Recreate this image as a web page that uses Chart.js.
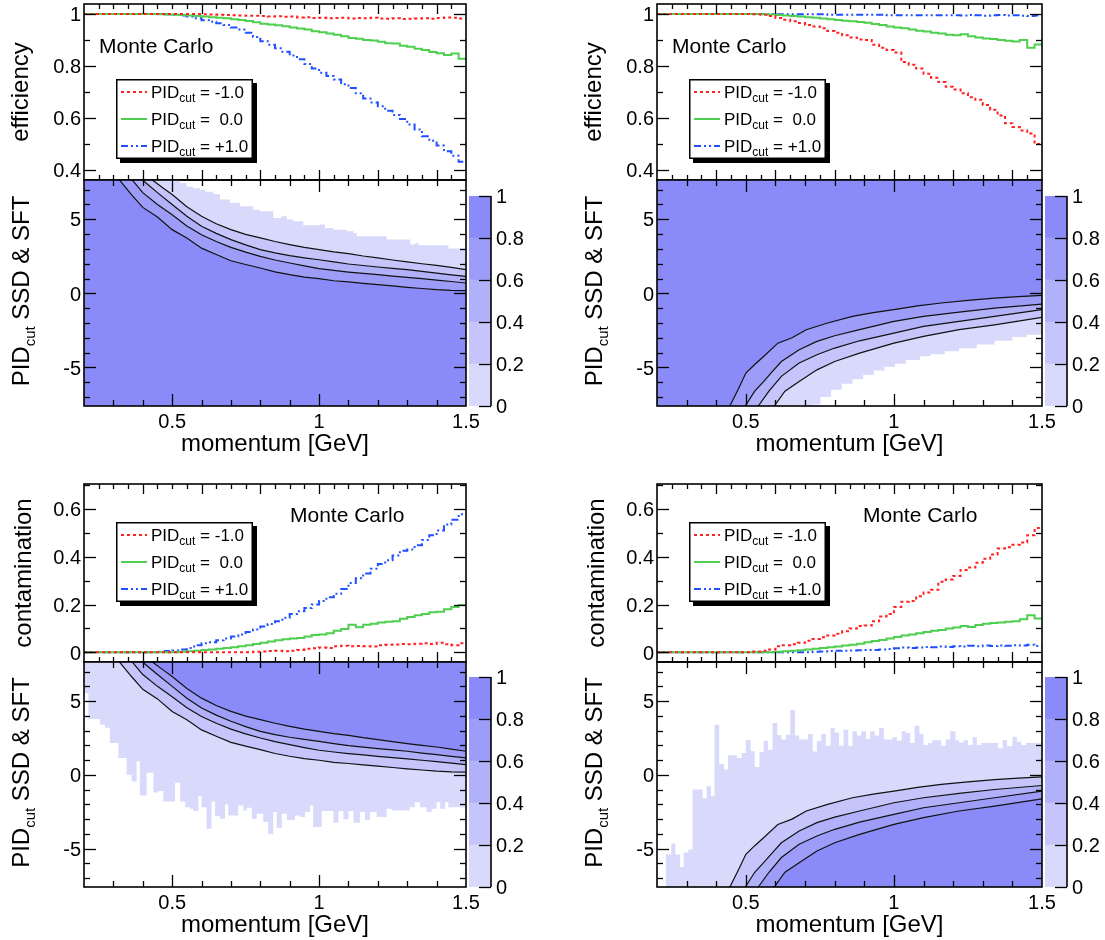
<!DOCTYPE html>
<html><head><meta charset="utf-8">
<script src="https://cdn.jsdelivr.net/npm/chart.js@4.4.1/dist/chart.umd.min.js"></script>
<style>
html,body{margin:0;padding:0;background:#fff;}
#wrap{position:relative;width:1105px;height:940px;overflow:hidden;background:#fff;}
#wrap canvas{position:absolute;left:0;top:0;}
</style></head><body><div id="wrap"></div>
<script>
// ---------------- DATA ----------------
const binEdges = [0.2,0.225,0.25,0.275,0.3,0.325,0.35,0.375,0.4,0.425,0.45,0.475,0.5,0.525,0.55,0.575,0.6,0.625,0.65,0.675,0.7,0.725,0.75,0.775,0.8,0.825,0.85,0.875,0.9,0.925,0.95,0.975,1.0,1.025,1.05,1.075,1.1,1.125,1.15,1.175,1.2,1.225,1.25,1.275,1.3,1.325,1.35,1.375,1.4,1.425,1.45,1.475];
const momentumMax = 1.5;
const legendTexts = ['= -1.0', '=  0.0', '= +1.0'];

// efficiency, top-left
const effTL_m1 = [1,1,1,1,1,1,1,1,1,1,1,1,1,1,1,1,0.999,0.998,0.997,0.996,0.995,0.994,0.993,0.993,0.992,0.99,0.991,0.989,0.99,0.987,0.988,0.985,0.986,0.984,0.985,0.986,0.983,0.985,0.984,0.986,0.983,0.982,0.984,0.981,0.982,0.983,0.984,0.982,0.985,0.987,0.986,0.983];
const effTL_0 = [1,1,1,1,1,1,1,1,1,1,0.999,0.998,0.997,0.996,0.994,0.992,0.99,0.988,0.986,0.984,0.98,0.977,0.973,0.968,0.963,0.96,0.957,0.953,0.948,0.944,0.94,0.934,0.93,0.925,0.92,0.914,0.908,0.905,0.9,0.898,0.893,0.888,0.887,0.878,0.874,0.866,0.862,0.854,0.849,0.842,0.848,0.828];
const effTL_p1 = [1,1,1,1,1,1,1,1,1,1,1,0.999,0.997,0.994,0.99,0.984,0.976,0.97,0.964,0.958,0.948,0.94,0.928,0.912,0.895,0.882,0.868,0.855,0.84,0.826,0.808,0.79,0.774,0.762,0.748,0.73,0.715,0.695,0.675,0.66,0.645,0.628,0.612,0.596,0.575,0.556,0.53,0.512,0.494,0.472,0.455,0.432];
// efficiency, top-right
const effTR_m1 = [1,1,1,1,1,1,1,1,1,1,1,1,1,0.999,0.997,0.992,0.985,0.978,0.972,0.965,0.958,0.952,0.945,0.935,0.928,0.918,0.91,0.902,0.9,0.882,0.87,0.862,0.852,0.815,0.805,0.79,0.77,0.755,0.738,0.72,0.71,0.695,0.68,0.67,0.65,0.632,0.61,0.58,0.565,0.552,0.54,0.5];
const effTR_0 = [1,1,1,1,1,1,1,1,1,1,1,1,1,1,0.999,0.998,0.996,0.994,0.992,0.99,0.988,0.986,0.983,0.98,0.977,0.974,0.972,0.969,0.966,0.962,0.958,0.952,0.948,0.945,0.94,0.936,0.933,0.928,0.925,0.92,0.918,0.922,0.914,0.91,0.906,0.904,0.9,0.897,0.894,0.9,0.87,0.883];
const effTR_p1 = [1,1,1,1,1,1,1,1,1,1,1,1,1,1,1,1,0.999,0.999,0.999,0.999,0.999,0.999,0.999,0.997,0.997,0.997,0.997,0.997,0.997,0.997,0.997,0.995,0.995,0.995,0.995,0.995,0.995,0.995,0.995,0.995,0.995,0.994,0.996,0.995,0.993,0.995,0.996,0.994,0.995,0.993,0.992,0.994];
// contamination, bottom-left
const conBL_m1 = [0,0,0,0,0,0,0,0,0,0,0,0,0,0,0,0,0,0,0,0,0,0,0,0.002,0.003,0.005,0.006,0.004,0.007,0.01,0.015,0.017,0.02,0.018,0.025,0.027,0.025,0.026,0.025,0.024,0.03,0.032,0.033,0.035,0.034,0.036,0.038,0.035,0.04,0.034,0.03,0.038];
const conBL_0 = [0,0,0,0,0,0,0,0,0,0,0,0,0,0.002,0.004,0.007,0.01,0.012,0.015,0.018,0.021,0.025,0.03,0.035,0.04,0.045,0.05,0.055,0.058,0.06,0.066,0.072,0.075,0.08,0.09,0.098,0.115,0.105,0.115,0.12,0.125,0.128,0.13,0.14,0.148,0.155,0.16,0.168,0.17,0.18,0.19,0.198];
const conBL_p1 = [0,0,0,0,0,0,0,0,0,0,0.002,0.005,0.008,0.012,0.018,0.03,0.038,0.042,0.05,0.058,0.066,0.075,0.085,0.095,0.108,0.118,0.13,0.145,0.16,0.172,0.185,0.2,0.215,0.23,0.245,0.265,0.29,0.31,0.33,0.35,0.37,0.385,0.405,0.425,0.43,0.448,0.47,0.49,0.51,0.535,0.555,0.578];
// contamination, bottom-right
const conBR_m1 = [0,0,0,0,0,0,0,0,0,0,0,0,0,0.003,0.006,0.012,0.025,0.03,0.034,0.04,0.048,0.056,0.063,0.07,0.078,0.088,0.1,0.11,0.112,0.13,0.15,0.16,0.19,0.212,0.215,0.235,0.25,0.262,0.295,0.305,0.32,0.345,0.355,0.375,0.392,0.41,0.435,0.44,0.45,0.46,0.49,0.52];
const conBR_0 = [0,0,0,0,0,0,0,0,0,0,0,0,0,0,0,0,0.002,0.004,0.006,0.009,0.012,0.015,0.018,0.021,0.024,0.028,0.032,0.036,0.042,0.047,0.052,0.058,0.064,0.07,0.075,0.08,0.085,0.09,0.093,0.1,0.104,0.11,0.106,0.114,0.12,0.123,0.125,0.128,0.13,0.138,0.155,0.142];
const conBR_p1 = [0,0,0,0,0,0,0,0,0,0,0,0,0,0,0,0,0,0,0,0,0,0.002,0.003,0.005,0.006,0.007,0.008,0.009,0.01,0.01,0.012,0.014,0.017,0.02,0.018,0.02,0.022,0.021,0.024,0.022,0.025,0.024,0.027,0.025,0.028,0.026,0.029,0.027,0.03,0.028,0.032,0.026];

// contour lines (levels 0.2/0.4/0.6/0.8) for the PID maps; first point lies outside the frame
const posC1X = [0.2,0.436,0.47,0.5,0.55,0.6,0.65,0.7,0.75,0.8,0.85,0.9,0.95,1.0,1.05,1.1,1.15,1.2,1.25,1.3,1.35,1.4,1.45,1.5];
const posC1Y = [12,7.6,7.1,6.67,5.85,5.2,4.7,4.3,3.98,3.74,3.5,3.29,3.1,2.95,2.8,2.68,2.52,2.39,2.25,2.12,2.0,1.89,1.75,1.6];
const posC2X = [0.2,0.402,0.45,0.5,0.55,0.6,0.65,0.7,0.75,0.8,0.85,0.9,0.95,1.0,1.05,1.1,1.15,1.2,1.25,1.3,1.35,1.4,1.45,1.5];
const posC2Y = [12,7.6,6.8,6.0,5.2,4.53,4.05,3.63,3.27,2.95,2.73,2.55,2.4,2.27,2.12,1.98,1.88,1.78,1.69,1.6,1.48,1.37,1.25,1.15];
const posC3X = [0.2,0.366,0.4,0.45,0.5,0.55,0.6,0.65,0.7,0.75,0.8,0.85,0.9,0.95,1.0,1.05,1.1,1.15,1.2,1.25,1.3,1.35,1.4,1.45,1.5];
const posC3Y = [12,7.6,6.8,6.0,5.3,4.55,3.96,3.5,3.1,2.78,2.5,2.25,2.05,1.85,1.67,1.55,1.44,1.35,1.26,1.17,1.08,0.99,0.9,0.8,0.7];
const posC4X = [0.2,0.3225,0.36,0.4,0.45,0.5,0.55,0.6,0.65,0.7,0.75,0.8,0.85,0.9,0.95,1.0,1.05,1.1,1.15,1.2,1.25,1.3,1.35,1.4,1.45,1.5];
const posC4Y = [12,7.6,6.7,5.8,5.15,4.3,3.74,3.05,2.62,2.2,1.95,1.71,1.45,1.26,1.1,0.99,0.85,0.77,0.68,0.59,0.5,0.41,0.33,0.25,0.2,0.18];
const negC1X = [0.2,0.446,0.476,0.5,0.53,0.56,0.608,0.656,0.704,0.776,0.86,0.93,1.0,1.08,1.16,1.25,1.34,1.42,1.5];
const negC1Y = [-12,-7.6,-6.4,-5.38,-4.8,-4.26,-3.36,-3.0,-2.45,-2.0,-1.55,-1.3,-1.1,-0.85,-0.65,-0.47,-0.32,-0.22,-0.14];
const negC2X = [0.2,0.498,0.53,0.56,0.59,0.62,0.68,0.74,0.8,0.884,1.0,1.1,1.22,1.34,1.5];
const negC2Y = [-12,-7.6,-6.6,-5.95,-5.27,-4.6,-3.8,-3.24,-2.86,-2.45,-1.89,-1.55,-1.26,-0.99,-0.72];
const negC3X = [0.2,0.542,0.578,0.62,0.68,0.74,0.8,0.884,1.0,1.1,1.22,1.34,1.5];
const negC3Y = [-12,-7.6,-6.6,-5.6,-4.7,-4.14,-3.69,-3.2,-2.68,-2.23,-1.89,-1.55,-1.1];
const negC4X = [0.2,0.596,0.632,0.68,0.74,0.8,0.884,1.0,1.1,1.22,1.34,1.5];
const negC4Y = [-12,-7.6,-6.6,-5.95,-5.16,-4.6,-4.03,-3.36,-2.9,-2.45,-2.12,-1.62];

// edge of the populated (0-0.2) region, per momentum bin (left edges)
const bndTL_x = [0.2,0.527,0.549,0.572,0.595,0.612,0.64,0.663,0.697,0.731,0.776,0.799,0.844,0.873,0.89,0.912,0.946,1.003,1.02,1.049,1.094,1.117,1.128,1.185,1.23,1.276,1.31,1.326,1.338,1.44];
const bndTL_y = [9,7.45,7.2,7.1,7.0,6.85,6.7,6.33,6.1,5.88,5.65,5.54,5.09,5.2,4.98,4.86,4.6,4.64,4.41,4.3,4.19,4.08,3.85,3.85,3.63,3.63,3.29,3.4,3.24,3.02];
const bndTR_x = [0.2,0.722,0.752,0.788,0.824,0.86,0.896,0.932,0.968,1.004,1.04,1.088,1.124,1.172,1.22,1.28,1.34,1.4,1.448];
const bndTR_y = [-9,-7.5,-7.0,-6.5,-6.1,-5.8,-5.5,-5.2,-4.95,-4.75,-4.5,-4.25,-4.1,-3.9,-3.7,-3.45,-3.2,-2.95,-2.8];
const bndBL_x = [0.2,0.215,0.226,0.254,0.271,0.288,0.317,0.345,0.362,0.379,0.39,0.413,0.436,0.453,0.47,0.498,0.51,0.527,0.544,0.561,0.572,0.589,0.6,0.617,0.634,0.646,0.663,0.68,0.691,0.725,0.742,0.754,0.771,0.788,0.81,0.827,0.844,0.856,0.873,0.89,0.918,0.935,0.952,0.969,0.98,1.009,1.049,1.066,1.083,1.1,1.117,1.139,1.156,1.173,1.196,1.23,1.247,1.309,1.326,1.343,1.366,1.383,1.4,1.412,1.429,1.44];
const bndBL_y = [5.54,3.78,3.78,3.4,3.2,2.16,1.15,0,-0.45,0.92,-1.4,0.14,-1.2,-1.1,-1.8,-1.8,-0.54,-1.8,-2.2,-2.3,-2.45,-1.44,-2.2,-3.65,-1.8,-2.8,-2.97,-2.0,-2.75,-2.07,-2.41,-2.23,-2.97,-2.64,-3.2,-4.0,-2.52,-3.6,-2.64,-3.06,-2.75,-2.86,-2.52,-2.07,-3.54,-2.45,-3.24,-2.45,-3.0,-2.45,-3.24,-2.52,-3.06,-2.52,-2.86,-2.3,-2.41,-2.2,-1.85,-2.2,-2.52,-2.3,-1.85,-2.3,-1.85,-2.2];
const bndBR_x = [0.2,0.23,0.248,0.262,0.278,0.29,0.306,0.32,0.354,0.368,0.382,0.394,0.41,0.426,0.44,0.47,0.486,0.5,0.516,0.53,0.546,0.56,0.575,0.59,0.606,0.62,0.635,0.65,0.666,0.68,0.71,0.726,0.74,0.755,0.77,0.786,0.8,0.815,0.83,0.846,0.86,0.875,0.89,0.906,0.92,0.935,0.95,0.966,0.995,1.01,1.026,1.04,1.055,1.07,1.086,1.1,1.115,1.13,1.16,1.175,1.19,1.208,1.22,1.235,1.25,1.266,1.28,1.295,1.322,1.352,1.367,1.382,1.4,1.415,1.43,1.446];
const bndBR_y = [-9,-5.4,-4.66,-5.4,-6.24,-5.27,-5.05,-1.0,-1.58,-0.77,-1.44,3.4,0.74,0.36,1.33,1.15,1.49,2.36,1.6,0.54,1.53,2.32,1.71,3.51,2.7,2.39,2.72,4.39,2.66,2.39,2.77,1.58,2.32,2.77,1.98,3.18,2.88,1.98,3.06,1.98,2.95,2.66,2.95,2.43,2.95,2.66,3.18,2.39,2.55,2.32,2.95,2.84,2.16,3.33,2.77,2.03,2.16,2.34,1.98,2.39,2.95,2.34,2.2,2.34,2.03,2.55,2.03,2.16,2.16,1.8,2.34,1.94,2.59,2.25,2.03,2.16];

// colour scale
const zLevels = [0, 0.2, 0.4, 0.6, 0.8, 1];
const zTickLabels = ['0', '0.2', '0.4', '0.6', '0.8', '1'];
// tick labels
const effTicks = [0.4, 0.6, 0.8, 1]; const effTickLabels = ['0.4', '0.6', '0.8', '1'];
const contTicks = [0, 0.2, 0.4, 0.6]; const contTickLabels = ['0', '0.2', '0.4', '0.6'];
const pidTicks = [-5, 0, 5]; const pidTickLabels = ['-5', '0', '5'];
const momTicks = [0.5, 1, 1.5]; const momTickLabels = ['0.5', '1', '1.5'];

// ---------------- STYLE / LAYOUT ----------------
const FONT = '"Liberation Sans", Arial, Helvetica, sans-serif';
const BAND = ['#d9d9fc', '#c5c5fb', '#b1b1fa', '#9d9df9', '#8a8af8'];
const SERIES_STYLE = [
  {color: '#ff2020', dash: [3, 3]},
  {color: '#4fcf4f', dash: []},
  {color: '#2050ff', dash: [7, 3, 2, 3, 2, 3]}
];
const W = 1105, H = 940;
const EFF_RANGE = [0.3615, 1.0385], CONT_RANGE = [-0.0406, 0.7047], PID_RANGE = [-7.6, 7.65];

function mkCanvas() {
  const c = document.createElement('canvas');
  c.width = W; c.height = H;
  document.getElementById('wrap').appendChild(c);
  return c;
}
function pad(L, T, R, B) { return {left: L, top: T, right: W - R, bottom: H - B}; }
function stepPoints(edges, vals, xEnd) {
  const pts = edges.map((x, i) => ({x: x, y: vals[i]}));
  pts.push({x: xEnd, y: vals[vals.length - 1]});
  return pts;
}
function range(a, b, s) { const r = []; for (let v = a; v <= b + 1e-9; v += s) r.push(Math.round(v * 1000) / 1000); return r; }

function drawRich(ctx, segs, x, y, rotate, align) {
  ctx.save();
  ctx.translate(x, y);
  if (rotate) ctx.rotate(-Math.PI / 2);
  let total = 0;
  segs.forEach(s => { ctx.font = s.size + 'px ' + FONT; s.w = ctx.measureText(s.t).width; total += s.w; });
  let cx = align === 'center' ? -total / 2 : 0;
  ctx.textAlign = 'left'; ctx.textBaseline = 'alphabetic'; ctx.fillStyle = '#000';
  segs.forEach(s => { ctx.font = s.size + 'px ' + FONT; ctx.fillText(s.t, cx, s.dy || 0); cx += s.w; });
  ctx.restore();
}

// frame + inside ticks + tick labels (ROOT style)
const rootAxes = {
  id: 'rootAxes',
  afterDraw(chart, args, o) {
    if (!o || !o.kind) return;
    const ctx = chart.ctx, a = chart.chartArea, sx = chart.scales.x, sy = chart.scales.y;
    ctx.save();
    ctx.strokeStyle = '#000';
    const L = Math.round(a.left), R = Math.round(a.right), T = Math.round(a.top), B = Math.round(a.bottom);
    const seg = (x1, y1, x2, y2) => { ctx.beginPath(); ctx.moveTo(x1, y1); ctx.lineTo(x2, y2); ctx.stroke(); };
    ctx.fillStyle = '#000';
    if (o.kind === 'cbar') {
      ctx.lineWidth = 1.6; seg(R, T, R, B);
      ctx.lineWidth = 1.3;
      (o.yTicks || []).forEach(t => { const py = Math.round(sy.getPixelForValue(t.v)) + 0.5; seg(R, py, R - t.len, py); });
      ctx.font = o.fontSize + 'px ' + FONT; ctx.textAlign = 'left'; ctx.textBaseline = 'alphabetic';
      (o.rLabels || []).forEach(l => { ctx.fillText(l.t, a.right + 5, sy.getPixelForValue(l.v) + o.fontSize * 0.36); });
      ctx.restore(); return;
    }
    ctx.lineWidth = 1.3;
    (o.xTicks || []).forEach(t => {
      const px = Math.round(sx.getPixelForValue(t.v)) + 0.5;
      if (px < L + 1 || px > R - 1) return;
      seg(px, B, px, B - t.len); seg(px, T, px, T + t.len);
    });
    (o.yTicks || []).forEach(t => {
      const py = Math.round(sy.getPixelForValue(t.v)) + 0.5;
      if (py < T + 1 || py > B - 1) return;
      seg(L, py, L + t.len, py); seg(R, py, R - t.len, py);
    });
    ctx.lineWidth = 1.6;
    ctx.strokeRect(L, T, R - L, B - T);
    ctx.font = o.fontSize + 'px ' + FONT;
    ctx.textAlign = 'right'; ctx.textBaseline = 'alphabetic';
    (o.yLabels || []).forEach(l => { ctx.fillText(l.t, a.left - 3, sy.getPixelForValue(l.v) + o.fontSize * 0.36); });
    ctx.textAlign = 'center';
    (o.xLabels || []).forEach(l => { ctx.fillText(l.t, sx.getPixelForValue(l.v), a.bottom + 22); });
    ctx.restore();
  }
};

// titles, texts and legend
const deco = {
  id: 'deco',
  afterDraw(chart, args, o) {
    if (!o || !o.items) return;
    const ctx = chart.ctx;
    o.items.forEach(it => {
      if (it.type === 'rich') { drawRich(ctx, it.segs.map(s => Object.assign({}, s)), it.x, it.y, it.rotate, it.align); return; }
      if (it.type === 'legend') {
        const x = it.x, y = it.y, w = it.w, h = it.h;
        ctx.save();
        ctx.fillStyle = '#000'; ctx.fillRect(x + 4, y + 4, w, h);
        ctx.fillStyle = '#fff'; ctx.fillRect(x, y, w, h);
        ctx.strokeStyle = '#000'; ctx.lineWidth = 1.5; ctx.strokeRect(x + 0.75, y + 0.75, w - 1.5, h - 1.5);
        chart.data.datasets.forEach((ds, i) => {
          const cy = y + h * (2 * i + 1) / 6;
          ctx.strokeStyle = ds.borderColor; ctx.lineWidth = 2; ctx.setLineDash(ds.borderDash || []);
          ctx.beginPath(); ctx.moveTo(x + 5, Math.round(cy)); ctx.lineTo(x + 31, Math.round(cy)); ctx.stroke();
          ctx.setLineDash([]);
          drawRich(ctx, [{t: 'PID', size: 17}, {t: 'cut', size: 12, dy: 4}, {t: ' ' + ds.label, size: 17}], x + 35, cy + 6, false, 'left');
        });
        ctx.restore();
      }
    });
  }
};
Chart.register(rootAxes, deco);

const panels = [
  {L: 84, R: 466, T: 4, M: 180, B: 406, cbL: 469, cbR: 491, cbT: 196, kind: 'eff',
   series: [effTL_m1, effTL_0, effTL_p1], fill: 'start',
   cont: [[posC4X, posC4Y], [posC3X, posC3Y], [posC2X, posC2Y], [posC1X, posC1Y]], bnd: [bndTL_x, bndTL_y]},
  {L: 657, R: 1042, T: 4, M: 180, B: 406, cbL: 1045, cbR: 1067, cbT: 196, kind: 'eff',
   series: [effTR_m1, effTR_0, effTR_p1], fill: 'end',
   cont: [[negC1X, negC1Y], [negC2X, negC2Y], [negC3X, negC3Y], [negC4X, negC4Y]], bnd: [bndTR_x, bndTR_y]},
  {L: 84, R: 466, T: 484, M: 662, B: 887, cbL: 469, cbR: 491, cbT: 677, kind: 'cont',
   series: [conBL_m1, conBL_0, conBL_p1], fill: 'end',
   cont: [[posC1X, posC1Y], [posC2X, posC2Y], [posC3X, posC3Y], [posC4X, posC4Y]], bnd: [bndBL_x, bndBL_y]},
  {L: 657, R: 1042, T: 484, M: 662, B: 887, cbL: 1045, cbR: 1067, cbT: 677, kind: 'cont',
   series: [conBR_m1, conBR_0, conBR_p1], fill: 'start',
   cont: [[negC4X, negC4Y], [negC3X, negC3Y], [negC2X, negC2Y], [negC1X, negC1Y]], bnd: [bndBR_x, bndBR_y]}
];

function baseOpts(padding, xmin, xmax, ymin, ymax, plugins) {
  return {
    responsive: false, animation: false, devicePixelRatio: 1, events: [],
    layout: {padding: padding},
    scales: {x: {type: 'linear', min: xmin, max: xmax, display: false}, y: {type: 'linear', min: ymin, max: ymax, display: false}},
    plugins: Object.assign({legend: {display: false}, tooltip: {enabled: false}, title: {display: false}}, plugins)
  };
}

const xTicksTop = range(0.2, 1.5, 0.05).map(v => ({v: v, len: (Math.abs((v * 10) % 2) < 1e-6 || Math.abs((v * 10) % 2 - 2) < 1e-6) ? 10 : 5}));
const xTicksMap = range(0.3, 1.5, 0.1).map(v => ({v: v, len: momTicks.some(m => Math.abs(m - v) < 1e-6) ? 12 : 6}));

panels.forEach(p => {
  const isEff = p.kind === 'eff';
  const yr = isEff ? EFF_RANGE : CONT_RANGE;
  const yMajors = isEff ? effTicks : contTicks;
  const yTickList = (isEff ? range(0.4, 1.0, 0.1) : range(0, 0.7, 0.1)).map(v => ({v: v, len: yMajors.some(m => Math.abs(m - v) < 1e-6) ? 12 : 6}));
  const yLabs = (isEff ? effTicks : contTicks).map((v, i) => ({v: v, t: (isEff ? effTickLabels : contTickLabels)[i]}));

  // top: efficiency / contamination
  const topItems = [
    {type: 'rich', segs: [{t: isEff ? 'efficiency' : 'contamination', size: 24}], x: p.L - (isEff ? 56 : 53), y: (p.T + p.M) / 2, rotate: true, align: 'center'},
    {type: 'rich', segs: [{t: 'Monte Carlo', size: 21}], x: p.L + (isEff ? 15 : 206), y: p.T + (isEff ? 49 : 38), rotate: false, align: 'left'},
    {type: 'legend', x: p.L + 32, y: p.T + (isEff ? 75 : 38), w: 137, h: 80}
  ];
  new Chart(mkCanvas(), {
    type: 'line',
    data: {datasets: p.series.map((vals, i) => ({
      label: legendTexts[i], data: stepPoints(binEdges, vals, momentumMax),
      borderColor: SERIES_STYLE[i].color, borderDash: SERIES_STYLE[i].dash, borderWidth: 2,
      stepped: true, pointRadius: 0, fill: false
    }))},
    options: baseOpts(pad(p.L, p.T, p.R, p.M), 0.2, 1.5, yr[0], yr[1], {
      rootAxes: {kind: 'plot', fontSize: 20, xTicks: xTicksTop, yTicks: yTickList, yLabels: yLabs},
      deco: {items: topItems}
    })
  });

  // bottom: PID map
  const bandOrder = [BAND[4], BAND[3], BAND[2], BAND[1]];
  const ds = p.cont.map((c, i) => ({
    data: c[0].map((x, j) => ({x: x, y: c[1][j]})),
    borderColor: '#111', borderWidth: 1.2, backgroundColor: bandOrder[i], fill: p.fill, pointRadius: 0, tension: 0
  }));
  ds.push({data: stepPoints(p.bnd[0], p.bnd[1], momentumMax), borderColor: 'rgba(0,0,0,0)', borderWidth: 1,
           backgroundColor: BAND[0], fill: p.fill, stepped: true, pointRadius: 0});
  const mapItems = [
    {type: 'rich', segs: [{t: 'PID', size: 24}, {t: 'cut', size: 15, dy: 6}, {t: ' SSD & SFT', size: 24}], x: p.L - 55, y: (p.M + p.B) / 2 - 2, rotate: true, align: 'center'},
    {type: 'rich', segs: [{t: 'momentum [GeV]', size: 24}], x: (p.L + p.R) / 2, y: p.B + 45, rotate: false, align: 'center'}
  ];
  new Chart(mkCanvas(), {
    type: 'line',
    data: {datasets: ds},
    options: baseOpts(pad(p.L, p.M, p.R, p.B), 0.2, 1.5, PID_RANGE[0], PID_RANGE[1], {
      rootAxes: {kind: 'plot', fontSize: 20, xTicks: xTicksMap,
                 yTicks: range(-7, 7, 1).map(v => ({v: v, len: pidTicks.includes(v) ? 12 : 6})),
                 yLabels: pidTicks.map((v, i) => ({v: v, t: pidTickLabels[i]})),
                 xLabels: momTicks.map((v, i) => ({v: v, t: momTickLabels[i]}))},
      deco: {items: mapItems}
    })
  });

  // colour bar
  const cbOpts = baseOpts(pad(p.cbL, p.cbT, p.cbR, p.B), 0, 1, 0, 1, {
    rootAxes: {kind: 'cbar', fontSize: 20, yTicks: zLevels.map(v => ({v: v, len: 12})),
               rLabels: zLevels.map((v, i) => ({v: v, t: zTickLabels[i]}))}
  });
  cbOpts.scales = {x: {stacked: true, display: false}, y: {stacked: true, min: 0, max: 1, display: false}};
  new Chart(mkCanvas(), {
    type: 'bar',
    data: {labels: ['z'], datasets: zLevels.slice(1).map((v, i) => ({
      data: [v - zLevels[i]], backgroundColor: BAND[i], borderWidth: 0, barPercentage: 1, categoryPercentage: 1
    }))},
    options: cbOpts
  });
});
</script></body></html>
